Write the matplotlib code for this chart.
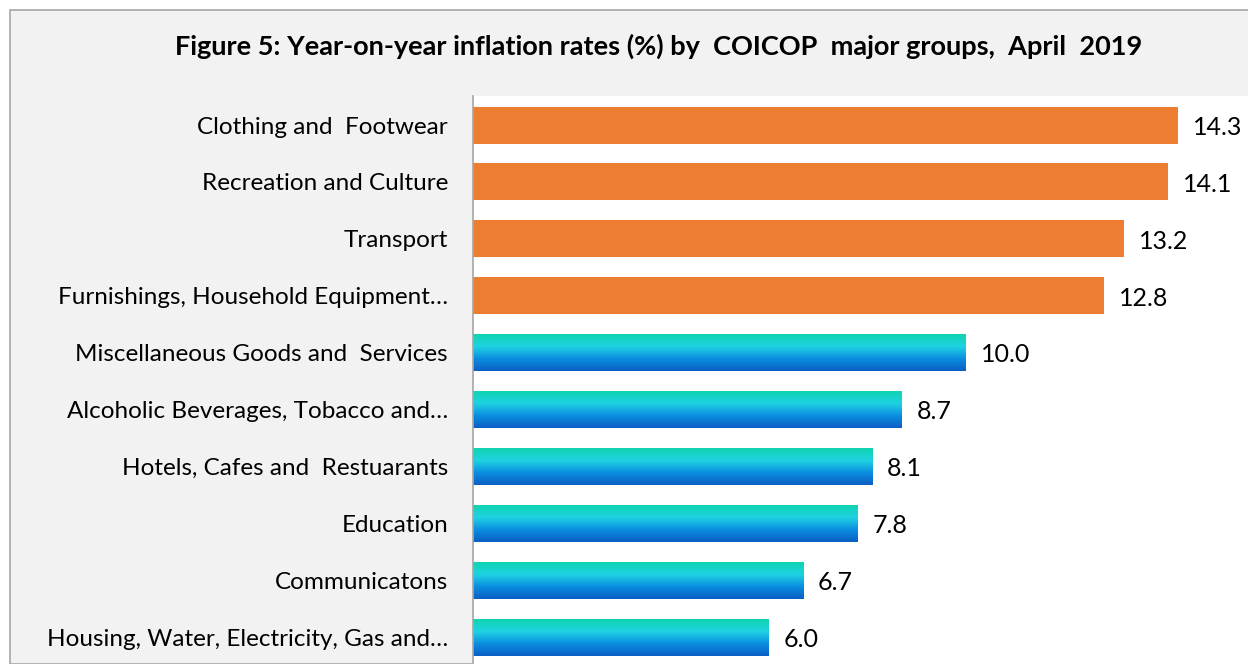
import numpy as np
import matplotlib.pyplot as plt
from matplotlib.colors import LinearSegmentedColormap
from matplotlib.patches import Rectangle

groups = ["Clothing and  Footwear", "Recreation and Culture", "Transport",
          "Furnishings, Household Equipment\u2026",
          "Miscellaneous Goods and  Services",
          "Alcoholic Beverages, Tobacco and\u2026",
          "Hotels, Cafes and  Restuarants", "Education", "Communicatons",
          "Housing, Water, Electricity, Gas and\u2026"]
rates = [14.3, 14.1, 13.2, 12.8, 10.0, 8.7, 8.1, 7.8, 6.7, 6.0]
highlight = [True, True, True, True, False, False, False, False, False, False]

plt.rcParams['font.family'] = ['Lato', 'DejaVu Sans']

W, H = 1248, 664
fig = plt.figure(figsize=(W / 100, H / 100), dpi=100)
fig.patch.set_facecolor('white')

# chart frame (light gray area with a thin border, cropped on right/bottom)
frame = Rectangle((10 / W, 0), 1.0, 1 - 10 / H, transform=fig.transFigure,
                  facecolor='#f2f2f2', edgecolor='#a6a6a6', linewidth=1.2,
                  zorder=-10)
fig.patches.append(frame)

ax = fig.add_axes([473 / W, 0, (W - 473) / W, (H - 96) / H])
ax.set_facecolor('white')

y = np.arange(len(groups))
bar_h = 0.65
grad = LinearSegmentedColormap.from_list(
    'g', ['#0a5fc4', '#0b8ee0', '#1fd2e2', '#0fd4b0'])
gradient = np.linspace(0, 1, 100).reshape(-1, 1)

bars = ax.barh(y, rates, height=bar_h, color='#ed7d31')
for b, hi in zip(bars, highlight):
    if not hi:
        x0, y0 = b.get_x(), b.get_y()
        w, h = b.get_width(), b.get_height()
        b.set_facecolor('none')
        im = ax.imshow(gradient, cmap=grad, aspect='auto',
                       extent=(x0, x0 + w, y0 + h, y0), origin='lower',
                       zorder=2)
        im.set_clip_path(b)

for yi, v in zip(y, rates):
    ax.text(v + 0.3, yi + 0.04, f"{v:.1f}", va='center', ha='left',
            fontsize=18, color='black')

ax.set_xlim(0, (W - 473) / 49.3)
ax.set_ylim(9.47, -0.51)
ax.set_yticks(y)
ax.set_yticklabels(groups, fontsize=17.5)
ax.tick_params(axis='y', length=0, pad=18)
ax.set_xticks([])
for s in ['top', 'right', 'bottom']:
    ax.spines[s].set_visible(False)
ax.spines['left'].set_color('#a6a6a6')
ax.spines['left'].set_linewidth(1.2)

fig.text(659 / W, 1 - 46 / H,
         "Figure 5: Year-on-year inflation rates (%) by  COICOP  major groups,  April  2019",
         ha='center', va='center', fontsize=19.5, fontweight='bold')

fig.savefig('out.png', dpi=100, facecolor=fig.get_facecolor())
